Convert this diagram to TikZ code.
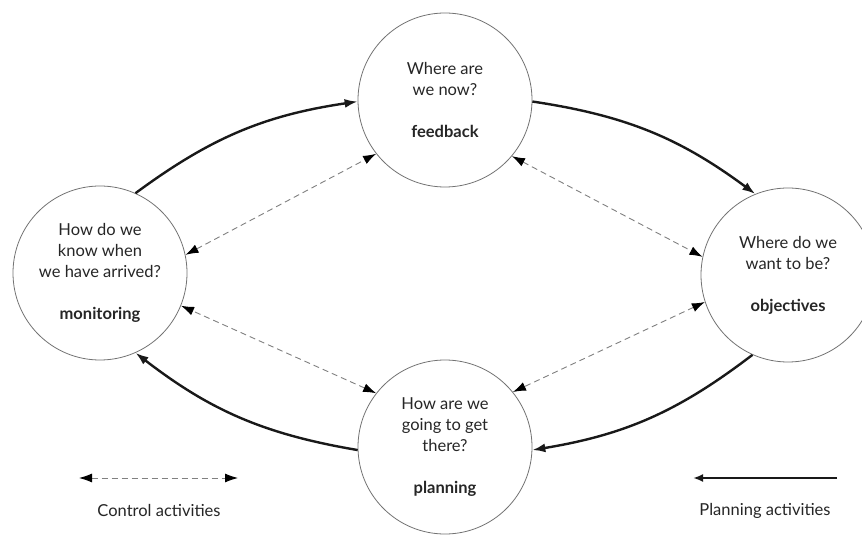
\documentclass[tikz,border=0pt]{standalone}
\usepackage{fontspec}
\setmainfont{Lato}
\usetikzlibrary{arrows.meta}
\begin{document}
\begin{tikzpicture}[x=1pt,y=1pt,
  stage/.style={circle,draw=black!55,line width=0.8pt,minimum size=174pt,inner sep=0pt,align=center,font=\fontsize{16.5}{21}\selectfont,text=black!85},
  plan/.style={line width=2.4pt,draw=black!90,-{Latex[length=13pt,width=9pt]}},
  ctrl/.style={draw=black!50,line width=0.9pt,dash pattern=on 6pt off 4pt,{Latex[length=13pt,width=9pt,color=black]}-{Latex[length=13pt,width=9pt,color=black]}},
  legend/.style={font=\fontsize{16.5}{19}\selectfont,text=black!85}]
\useasboundingbox (0,0) rectangle (862,-537);
\fill[white] (0,0) rectangle (862,-537);
\clip (0,0) rectangle (862,-537);
\node[stage] (T) at (445,-100) {Where are\\we now?\\[21pt]\textbf{feedback}};
\node[stage] (L) at (100,-273) {How do we\\know when\\we have arrived?\\[21pt]\textbf{monitoring}};
\node[stage] (R) at (788,-275) {Where do we\\want to be?\\[21pt]\textbf{objectives}};
\node[stage] (B) at (445,-447) {How are we\\going to get\\there?\\[21pt]\textbf{planning}};
% planning cycle
\draw[plan] (L.66) to[bend left=14] (T.181);
\draw[plan] (T.359) to[bend left=14] (R.112);
\draw[plan] (R.246) to[bend left=14] (B.358);
\draw[plan] (B.182) to[bend left=14] (L.294);
% control
\draw[ctrl] (L.12) -- (T.218);
\draw[ctrl] (T.320) -- (R.168);
\draw[ctrl] (R.198) -- (B.39);
\draw[ctrl] (B.142) -- (L.338);
% legend
\coordinate (c1) at (79,-478);
\coordinate (c2) at (238,-478);
\draw[ctrl] (c1) -- (c2);
\node[legend] (ct) at (159,-510) {Control activities};
\coordinate (p1) at (837,-478);
\coordinate (p2) at (693,-478);
\draw[line width=2.6pt,draw=black!90,-{Latex[length=10pt,width=8pt]}] (p1) -- (p2);
\node[legend] (pt) at (765,-511) {Planning activities};
\end{tikzpicture}
\end{document}
